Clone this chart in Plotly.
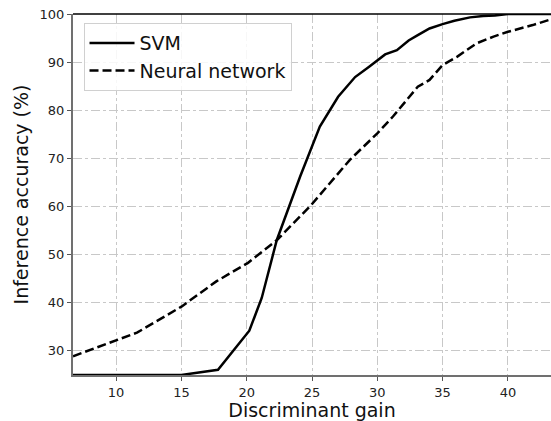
import plotly.graph_objects as go

svm_x = [6.7, 15.0, 17.8, 20.2, 21.15, 22.3, 24.1, 25.6, 27.0, 28.3, 29.4, 30.6, 31.5, 32.4, 33.1, 34.0, 35.0, 35.9, 37.1, 38.1, 39.0, 40.0, 43.3]
svm_y = [25.0, 25.0, 26.1, 34.2, 41.0, 53.0, 66.3, 76.6, 82.8, 86.9, 89.1, 91.6, 92.5, 94.5, 95.6, 97.0, 97.9, 98.6, 99.3, 99.6, 99.7, 100.0, 100.0]

nn_x = [6.7, 10.0, 11.6, 15.0, 17.7, 20.1, 22.3, 24.9, 27.9, 30.0, 31.2, 33.1, 34.0, 35.0, 36.1, 37.6, 38.9, 40.0, 41.9, 43.3]
nn_y = [28.9, 32.3, 33.8, 39.2, 44.5, 48.3, 53.0, 60.2, 69.7, 75.2, 78.7, 84.9, 86.3, 89.4, 91.1, 93.9, 95.3, 96.3, 97.7, 98.9]

x_ticks = [10, 15, 20, 25, 30, 35, 40]
y_ticks = [30, 40, 50, 60, 70, 80, 90, 100]

FONT = "DejaVu Sans"

fig = go.Figure()
fig.add_trace(go.Scatter(x=svm_x, y=svm_y, mode="lines", name="SVM",
                         line=dict(color="black", width=2.5, dash="solid")))
fig.add_trace(go.Scatter(x=nn_x, y=nn_y, mode="lines", name="Neural network",
                         line=dict(color="black", width=2.5, dash="9px,4px")))

grid_common = dict(showgrid=True, gridcolor="#c8c8c8", gridwidth=1, griddash="dashdot")

fig.update_xaxes(range=[6.7, 43.3], tickvals=x_ticks, ticktext=[str(v) for v in x_ticks],
                 ticks="outside", ticklen=4, tickcolor="#555555", tickwidth=1,
                 showline=True, linecolor="#707070", linewidth=2,
                 zeroline=False,
                 tickfont=dict(family=FONT, size=13, color="#222222"),
                 title=dict(text="Discriminant gain", font=dict(family=FONT, size=19, color="#111111"), standoff=6),
                 **grid_common)
fig.update_yaxes(range=[25, 100], tickvals=y_ticks, ticktext=[str(v) for v in y_ticks],
                 ticks="outside", ticklen=4, tickcolor="#555555", tickwidth=1,
                 showline=True, linecolor="#707070", linewidth=2,
                 zeroline=False,
                 tickfont=dict(family=FONT, size=13, color="#222222"),
                 title=dict(text="Inference accuracy (%)", font=dict(family=FONT, size=19, color="#111111"), standoff=6),
                 **grid_common)

fig.add_shape(type="line", xref="paper", yref="paper", x0=0, x1=1, y0=1, y1=1,
              line=dict(color="black", width=1.5), layer="above")

fig.update_layout(
    width=551, height=421,
    margin=dict(l=73, r=0, t=14, b=46),
    plot_bgcolor="white", paper_bgcolor="white",
    font=dict(family=FONT),
    legend=dict(x=0.022, y=0.975, xanchor="left", yanchor="top",
                bgcolor="rgba(255,255,255,0.85)", bordercolor="#d0d0d0", borderwidth=1,
                font=dict(family=FONT, size=19, color="#111111"),
                tracegroupgap=2, itemwidth=45),
    showlegend=True,
)

fig.write_html("out.html")
